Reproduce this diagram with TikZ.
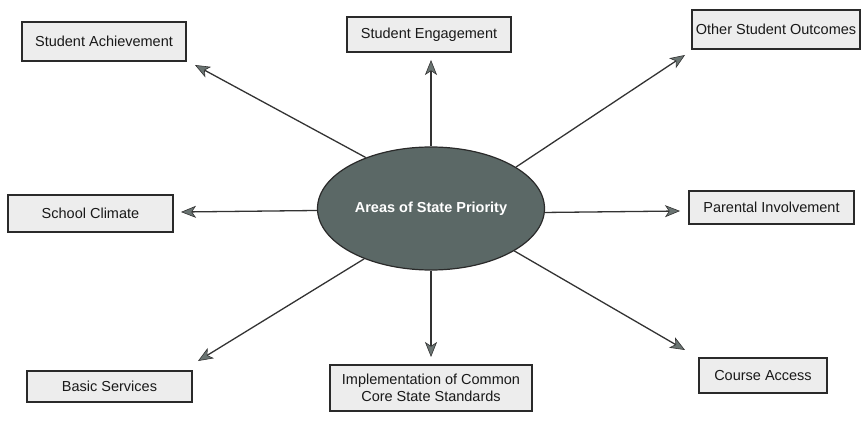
\documentclass[tikz,border=0pt]{standalone}
\usepackage{fontspec}
\setmainfont{Liberation Sans}
\usetikzlibrary{shapes.geometric,arrows.meta}
\definecolor{boxfill}{HTML}{EDEDED}
\definecolor{boxline}{HTML}{2A2A2A}
\definecolor{ellfill}{HTML}{5B6866}
\definecolor{linecol}{HTML}{333333}
\definecolor{headcol}{HTML}{6A7472}
\tikzset{
  areabox/.style={draw=boxline, line width=1.8pt, fill=boxfill, inner sep=0pt,
    align=center, font=\fontsize{14.5}{17.5}\selectfont, text=black!90},
  hub/.style={ellipse, draw=boxline, line width=1.2pt, fill=ellfill, inner sep=0pt,
    minimum width=227pt, minimum height=123pt, text=white,
    font=\fontsize{14.5}{17.5}\selectfont\bfseries},
  spoke/.style={draw=linecol, line width=1.3pt,
    -{Stealth[length=15pt, width=12pt, inset=4pt, color=linecol, fill=headcol, line width=0.6pt]}}
}
\begin{document}
\begin{tikzpicture}[x=1pt,y=-1pt]
\useasboundingbox (0,0) rectangle (865,422);
\node[hub] (ell) at (431,208.5) {Areas of State Priority};
\node[areabox, minimum width=164pt, minimum height=39pt] (sa) at (104,41.5) {Student Achievement};
\node[areabox, minimum width=164pt, minimum height=35pt] (se) at (429,34.5) {Student Engagement};
\node[areabox, minimum width=168pt, minimum height=39pt] (oso) at (776,29.5) {Other Student Outcomes};
\node[areabox, minimum width=165pt, minimum height=37pt] (sc) at (90.5,213.5) {School Climate};
\node[areabox, minimum width=165pt, minimum height=33pt] (pi) at (771.5,207.5) {Parental Involvement};
\node[areabox, minimum width=165pt, minimum height=31pt] (bs) at (109.5,386.5) {Basic Services};
\node[areabox, minimum width=202pt, minimum height=46pt] (imp) at (431,388) {Implementation of Common\\Core State Standards};
\node[areabox, minimum width=128pt, minimum height=35pt] (ca) at (763,375.5) {Course Access};
\coordinate (tsa) at (195,65);
\coordinate (tse) at (431,60);
\coordinate (toso) at (685,55);
\coordinate (tsc) at (181,212);
\coordinate (tpi) at (680,211);
\coordinate (tbs) at (198,361);
\coordinate (timp) at (431,357);
\coordinate (tca) at (685,350);
\draw[spoke] (ell.142.6) -- (tsa);
\draw[spoke] (ell.90) -- (tse);
\draw[spoke] (ell.26.6) -- (toso);
\draw[spoke] (ell.181.5) -- (tsc);
\draw[spoke] (ell.358.7) -- (tpi);
\draw[spoke] (ell.217.8) -- (tbs);
\draw[spoke] (ell.270) -- (timp);
\draw[spoke] (ell.333.4) -- (tca);
\end{tikzpicture}
\end{document}
